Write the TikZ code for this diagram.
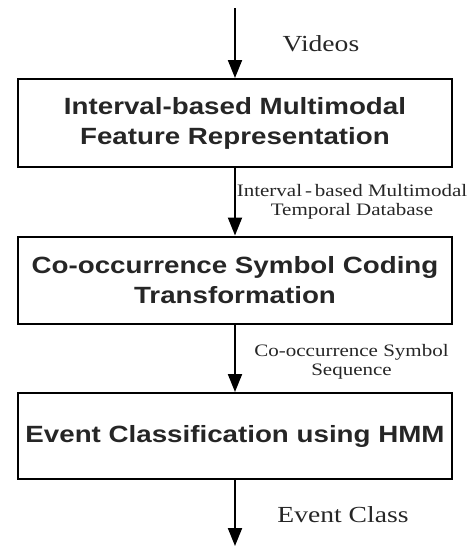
\documentclass[tikz,border=0pt]{standalone}
\usepackage{fontspec}
\setmainfont{Liberation Serif}[FakeStretch=1.2]
\newfontfamily\boxfont{Liberation Sans}[FakeStretch=1.18]
\usetikzlibrary{arrows.meta}
\begin{document}
\begin{tikzpicture}[x=1pt,y=-1pt,
  stagebox/.style={draw, line width=2pt, minimum width=434pt, inner sep=0pt, align=center,
    font=\boxfont\bfseries\fontsize{23.5}{30}\selectfont, text=black!85},
  flow/.style={line width=2pt, -{Triangle[length=18pt,width=14pt]}},
  biglabel/.style={font=\fontsize{23}{28}\selectfont, anchor=base, inner sep=0pt, text=black!85},
  smalllabel/.style={font=\fontsize{17.5}{19}\selectfont, align=center, inner sep=0pt, text=black!85}]
\useasboundingbox (0,0) rectangle (472,547);
\coordinate (start) at (235,8);
\coordinate (finish) at (235,546);
\node[stagebox, minimum height=88pt] (b1) at (235,123) {Interval-based Multimodal\\Feature Representation};
\node[stagebox, minimum height=87pt] (b2) at (235,280) {Co-occurrence Symbol Coding\\Transformation};
\node[stagebox, minimum height=86pt] (b3) at (235,436) {Event Classification using HMM};
\draw[flow] (start) -- (b1.north);
\draw[flow] (b1) -- (b2);
\draw[flow] (b2) -- (b3);
\draw[flow] (b3.south) -- (finish);
\node[biglabel] (l1) at (321,51) {Videos};
\node[smalllabel, anchor=north] (l2) at (352,184) {Interval\,-\,based Multimodal\\Temporal Database};
\node[smalllabel, anchor=north] (l3) at (351.5,344) {Co-occurrence Symbol\\Sequence};
\node[biglabel] (l4) at (343,522) {Event Class};
\end{tikzpicture}
\end{document}
